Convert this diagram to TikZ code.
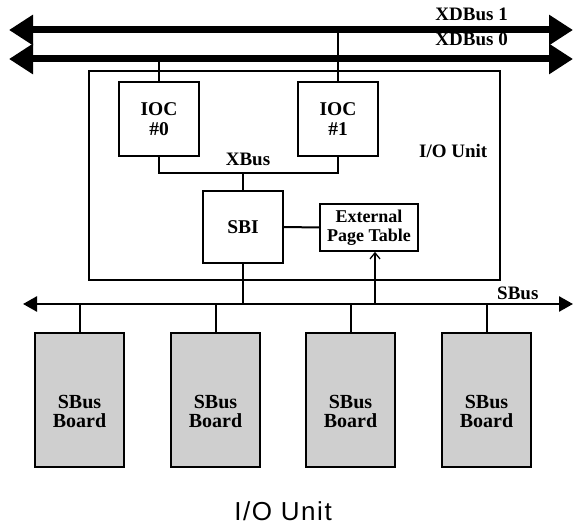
\documentclass[tikz,border=0pt]{standalone}
\usepackage{fontspec}
\setmainfont{Liberation Serif}
\newfontfamily\capfont[LetterSpace=6]{Liberation Sans}
\usetikzlibrary{arrows.meta}
\begin{document}
\begin{tikzpicture}[x=1pt,y=-1pt,
  box/.style={draw,line width=1.8pt,inner sep=0pt,align=center,
    font=\fontsize{19.5}{20}\selectfont\bfseries},
  lbl/.style={inner sep=0pt,font=\fontsize{19}{20}\selectfont\bfseries},
  wire/.style={line width=2pt},
  xdbus/.style={line width=7pt,{Triangle[length=24pt,width=29pt]}-{Triangle[length=24pt,width=29pt]}},
  sbusline/.style={line width=2.6pt,{Triangle[length=14pt,width=15pt]}-{Triangle[length=14pt,width=15pt]}},
  board/.style={draw,line width=1.8pt,fill=black!19,minimum width=89pt,minimum height=134pt,inner sep=0pt},
  boardtxt/.style={inner sep=0pt,align=center,font=\fontsize{20}{19}\selectfont\bfseries},
]
\useasboundingbox (0,0) rectangle (574,529);

% buses
\coordinate (x1l) at (9,30);
\coordinate (x1r) at (573,30);
\coordinate (x0l) at (9,59);
\coordinate (x0r) at (573,59);
\coordinate (sl) at (23,304);
\coordinate (sr) at (573,304);
\draw[xdbus] (x1l) -- (x1r);
\draw[xdbus] (x0l) -- (x0r);
\draw[sbusline] (sl) -- (sr);
\node[lbl,anchor=base east] (lx1) at (508,21) {XDBus 1};
\node[lbl,anchor=base east] (lx0) at (508,46) {XDBus 0};
\node[lbl,anchor=base west] (lsb) at (497,300) {SBus};

% I/O unit
\node[box,minimum width=411pt,minimum height=209pt] (unit) at (294.5,175.5) {};
\node[lbl,anchor=base west] (lunit) at (419,158) {I/O Unit};
\node[box,minimum width=80pt,minimum height=74pt] (ioc0) at (159,119) {IOC\\\#0};
\node[box,minimum width=80pt,minimum height=74pt] (ioc1) at (338,119) {IOC\\\#1};
\node[box,minimum width=80pt,minimum height=72pt] (sbi) at (243,227) {SBI};
\node[box,minimum width=98pt,minimum height=47pt,font=\fontsize{18}{19}\selectfont\bfseries] (ept) at (369,227.5) {External\\Page Table};

\draw[wire] (ioc0.north) -- (ioc0.north |- x0l);
\draw[wire] (ioc1.north) -- (ioc1.north |- x1l);
\coordinate (xb) at (243,173);
\draw[wire] (ioc0.south) |- (xb) -| (ioc1.south);
\draw[wire] (sbi.north) -- (xb);
\node[lbl,anchor=base] (lxb) at (248,166) {XBus};
\draw[wire] (sbi.east) -- (ept.west);
\draw[wire] (sbi.south) -- (sbi.south |- sl);
\draw[line width=1.3pt,-{Straight Barb[length=6pt,width=10pt]}] ([xshift=6pt]ept.south |- sl) -- ([xshift=6pt]ept.south);

% boards
\foreach \i/\x in {1/79.5,2/215.5,3/350.5,4/486.5}{
  \node[board] (b\i) at (\x,400) {};
  \node[boardtxt] (t\i) at (\x,411) {SBus\\Board};
  \draw[wire] (b\i.north) -- (b\i.north |- sl);
}

\node[inner sep=0pt,anchor=base,font=\capfont\fontsize{26}{28}\selectfont] (cap) at (283,521) {I/O Unit};
\end{tikzpicture}
\end{document}
